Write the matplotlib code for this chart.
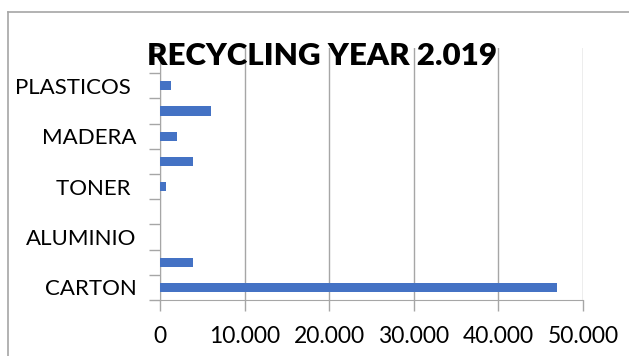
import matplotlib
matplotlib.use("Agg")
import matplotlib.pyplot as plt
from matplotlib.lines import Line2D
from matplotlib.ticker import FuncFormatter

# datos de reciclaje (de abajo hacia arriba)
categorias = ["CARTON", "", "ALUMINIO", "", "TONER ", "", "MADERA", "", "PLASTICOS ", ""]
valores = [46900, 3900, 0, 0, 680, 3900, 2050, 6050, 1350, 0]
xticks = [0, 10000, 20000, 30000, 40000, 50000]

plt.rcParams['font.family'] = ['Lato', 'DejaVu Sans']

fig = plt.figure(figsize=(6.29, 3.56), dpi=100)
ax = fig.add_axes([160 / 629, 1 - 300 / 356, 423 / 629, 252 / 356])

pos = list(range(len(categorias)))
ax.barh(pos, valores, height=0.36, color="#4472C4", zorder=3)

ax.set_xlim(0, 50000)
ax.set_ylim(-0.5, len(categorias) - 0.5)
ax.set_xticks(xticks)
ax.xaxis.set_major_formatter(FuncFormatter(lambda v, p: "{:,.0f}".format(v).replace(",", ".")))
ax.grid(axis="x", color="#A6A6A6", linewidth=1, zorder=0)

# ticks del eje y en los limites de las categorias, etiquetas en medio
ax.set_yticks([p - 0.5 for p in pos] + [len(categorias) - 0.5])
ax.set_yticklabels([])
ax.set_yticks(pos, minor=True)
ax.set_yticklabels(categorias, minor=True)
ax.tick_params(axis="y", which="minor", length=0, pad=17, labelsize=16)
ax.tick_params(axis="y", which="major", length=8, color="#A6A6A6", width=1)
ax.tick_params(axis="x", length=8, color="#A6A6A6", width=1, pad=11, labelsize=16.5)

for s in ["top", "right"]:
    ax.spines[s].set_visible(False)
for s in ["left", "bottom"]:
    ax.spines[s].set_color("#A6A6A6")

fig.text(322 / 629, 1 - 56 / 356, "RECYCLING YEAR 2.019", ha="center", va="center",
         fontsize=22.5, fontweight="heavy")

# marco del grafico
fig.add_artist(Line2D([8 / 629, 8 / 629], [0, 1 - 12 / 356], color="#A6A6A6", linewidth=1.2))
fig.add_artist(Line2D([8 / 629, 1], [1 - 12 / 356, 1 - 12 / 356], color="#A6A6A6", linewidth=1.2))

fig.savefig("out.png", dpi=100)
